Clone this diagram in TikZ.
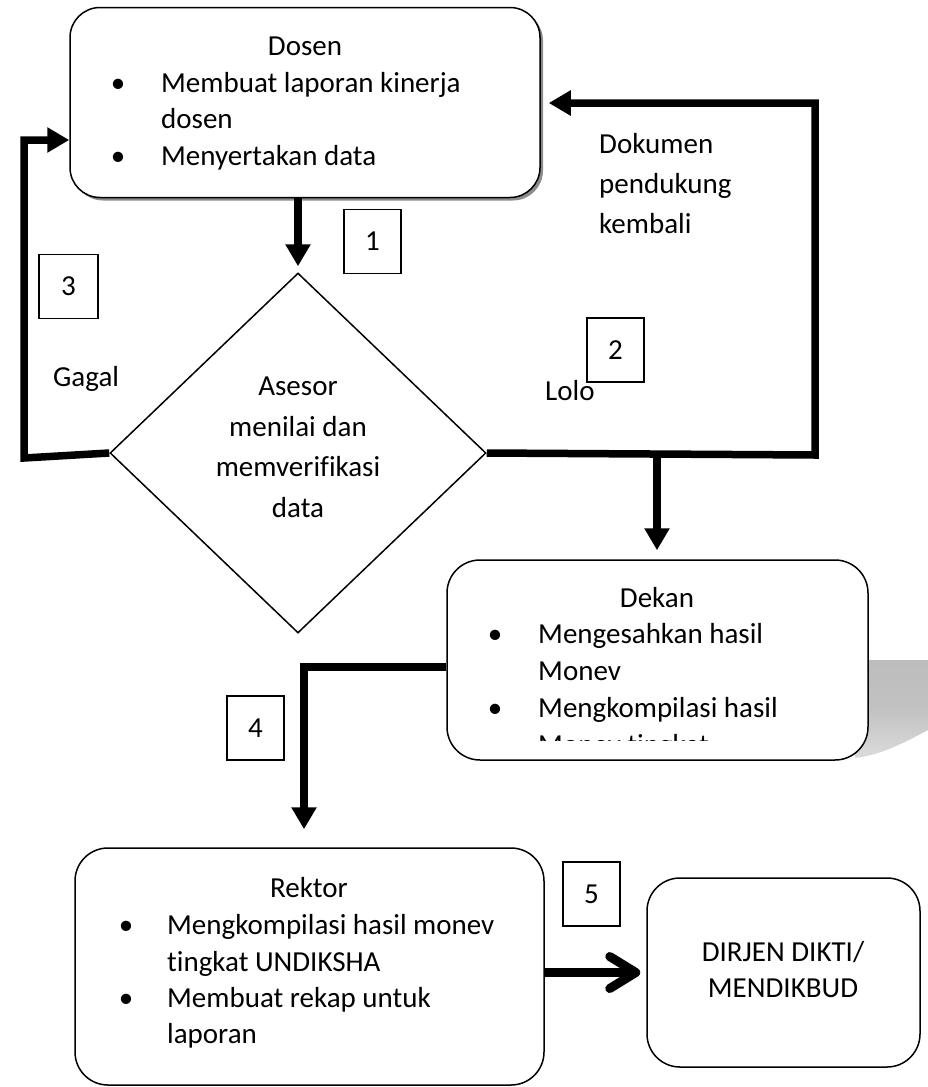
\documentclass[tikz,border=0pt]{standalone}
\usepackage{fontspec}
\setmainfont{Carlito}[Ligatures={NoCommon,NoContextual}]
\usetikzlibrary{arrows.meta, shapes.geometric, shadows}

\begin{document}
\begin{tikzpicture}[x=1pt, y=-1pt,
    every node/.style={font=\fontsize{29}{35}\selectfont},
    txt/.style={inner sep=0pt, text height=20pt, text depth=7pt},
    procbox/.style={draw, line width=1.5pt, rounded corners=33pt, fill=white, inner sep=0pt},
    numbox/.style={draw, line width=1.2pt, minimum width=57pt, minimum height=64pt, inner sep=0pt},
    flow/.style={line width=7.5pt, -{Triangle[length=22pt, width=24pt]}}]
    \useasboundingbox (0,0) rectangle (928,1087);

    % boxes
    \node[procbox, rounded corners=30pt, minimum width=470pt, minimum height=190pt,
          drop shadow={shadow xshift=3pt, shadow yshift=-3pt, fill=gray!90, opacity=1}] (dosen) at (305,102.5) {};
    \node[diamond, draw, line width=1.5pt, minimum width=376pt, minimum height=360pt, aspect=1.04, inner sep=0pt] (asesor) at (298,453) {};

    \shade[top color=black!26, bottom color=black!14, middle color=black!24] (860,660) -- (928,660) -- (928,730)
        .. controls (900,745) and (880,755) .. (855,758) -- cycle;
    \node[procbox, minimum width=421pt, minimum height=200pt] (dekan) at (657.5,660) {};
    \node[procbox, minimum width=469pt, minimum height=237pt] (rektor) at (309.5,966.5) {};
    \node[procbox, minimum width=273pt, minimum height=189pt] (dirjen) at (783.5,972.5) {};

    % texts in the boxes
    \node[txt] (dosenT) at (305,48.5) {Dosen};
    \node[txt] (dosenB1) at (118,85.5) {\textbullet};
    \node[txt, anchor=west] (dosenL1) at (161,85.5) {Membuat laporan kinerja};
    \node[txt, anchor=west] (dosenL2) at (161,121.5) {dosen};
    \node[txt] (dosenB2) at (118,158.5) {\textbullet};
    \node[txt, anchor=west] (dosenL3) at (161,158.5) {Menyertakan data};

    \node[txt] (asesorL1) at (298,389) {Asesor};
    \node[txt] (asesorL2) at (298,430) {menilai dan};
    \node[txt] (asesorL3) at (298,470) {memverifikasi};
    \node[txt] (asesorL4) at (298,511) {data};

    \node[txt] (dekanT) at (657,600.5) {Dekan};
    \node[txt] (dekanB1) at (495,636.5) {\textbullet};
    \node[txt, anchor=west] (dekanL1) at (538,636.5) {Mengesahkan hasil};
    \node[txt, anchor=west] (dekanL2) at (538,673.5) {Monev};
    \node[txt] (dekanB2) at (495,710.5) {\textbullet};
    \node[txt, anchor=west] (dekanL3) at (538,710.5) {Mengkompilasi hasil};
    \begin{scope}
        \clip (447,560) rectangle (868,740);
        \node[txt, anchor=west] (dekanL4) at (538,747.5) {Monev tingkat};
    \end{scope}

    \node[txt] (rektorT) at (309,891) {Rektor};
    \node[txt] (rektorB1) at (126,928) {\textbullet};
    \node[txt, anchor=west] (rektorL1) at (167,928) {Mengkompilasi hasil monev};
    \node[txt, anchor=west] (rektorL2) at (167,965) {tingkat UNDIKSHA};
    \node[txt] (rektorB2) at (126,1001) {\textbullet};
    \node[txt, anchor=west] (rektorL3) at (167,1001) {Membuat rekap untuk};
    \node[txt, anchor=west] (rektorL4) at (167,1037) {laporan};

    \node[txt] (dirjenL1) at (783,955) {DIRJEN DIKTI/};
    \node[txt] (dirjenL2) at (783,991) {MENDIKBUD};

    % step numbers and labels
    \node[numbox] (n1) at (372.5,241.5) {1};
    \node[numbox] (n2) at (615.5,350) {2};
    \node[numbox, minimum width=59pt] (n3) at (68.5,286.5) {3};
    \node[numbox] (n4) at (255.5,728) {4};
    \node[numbox] (n5) at (591.5,894) {5};

    \node[txt, anchor=west] (gagal) at (53,380) {Gagal};
    \node[txt, anchor=west] (lolo) at (545,394) {Lolo};
    \node[txt, anchor=west] (dok1) at (599,147) {Dokumen};
    \node[txt, anchor=west] (dok2) at (599,187) {pendukung};
    \node[txt, anchor=west] (dok3) at (599,227) {kembali};

    % connectors
    \coordinate (gagalbend) at (24,458);
    \coordinate (gagaltop) at (24,140);
    \coordinate (lolobend) at (815,455);
    \coordinate (lolotop) at (815,103);
    \coordinate (branch) at (657,455);
    \coordinate (rekbend) at (304,667);

    \draw[flow, shorten >=6pt] (asesor.north |- dosen.south) -- (asesor.north);
    \draw[flow] (asesor.west) -- (gagalbend) -- (gagaltop) -- (gagaltop -| dosen.west);
    \draw[flow, shorten >=8pt] (asesor.east) -- (lolobend) -- (lolotop) -- (lolotop -| dosen.east);
    \draw[flow, shorten >=9pt] (branch) -- (branch |- dekan.north);
    \draw[flow, shorten >=18pt] (rekbend -| dekan.west) -- (rekbend) -- (rekbend |- rektor.north);
    \draw[line width=9pt, -{Straight Barb[round, length=26pt, width=32pt]}, shorten >=6pt]
        (rektor.east |- dirjen.west) -- (dirjen.west);
\end{tikzpicture}
\end{document}
